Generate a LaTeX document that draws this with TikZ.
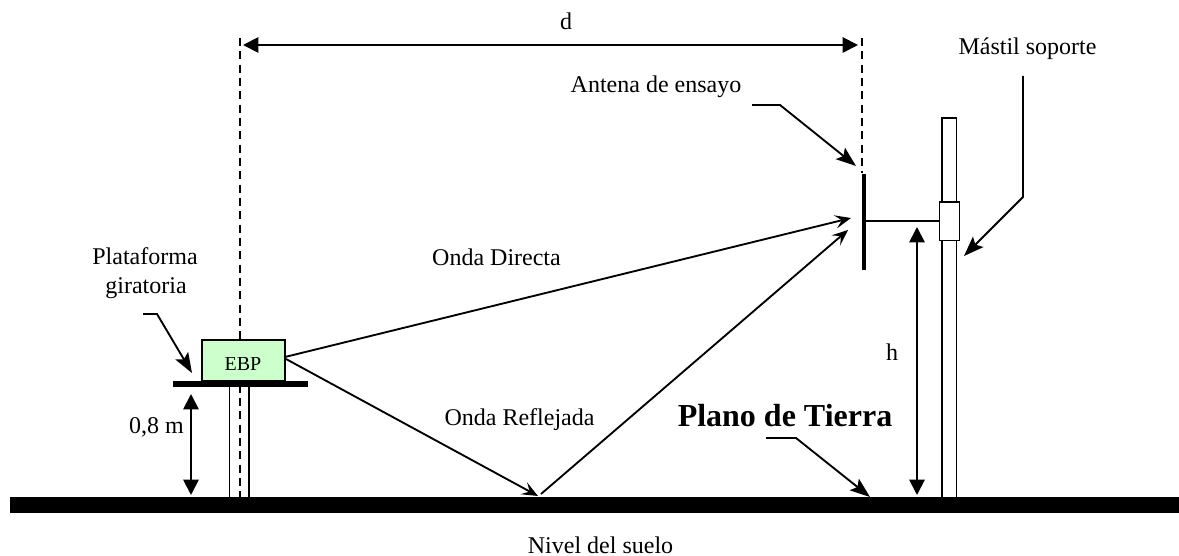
\documentclass[tikz,border=0pt]{standalone}
\usepackage{fontspec}
\setmainfont{Liberation Serif}
\usetikzlibrary{arrows.meta}
\tikzset{
  lbl/.style={inner sep=0pt,anchor=base,font=\fontsize{18}{22}\selectfont},
  ln/.style={draw=black,line width=1.4pt},
  bothtip/.style={{Triangle[length=11.5pt,width=11.5pt]}-{Triangle[length=11.5pt,width=11.5pt]}},
  callout/.style={ln,-{Stealth[length=15pt,width=11pt,inset=3pt]},line join=miter},
  wave/.style={ln,-{Stealth[length=12pt,width=10pt,inset=5pt]}},
  guide/.style={draw=black,line width=1.2pt,dash pattern=on 6pt off 4pt},
}
\begin{document}
\begin{tikzpicture}[x=0.75pt,y=-0.75pt]
\useasboundingbox (0,0) rectangle (1179,556);
% guides
\coordinate (gl1) at (240,38); \coordinate (gl2) at (240,497);
\coordinate (gr1) at (862,38); \coordinate (gr2) at (862,173);
\draw[guide] (gl1) -- (gl2);
\draw[guide] (gr1) -- (gr2);
% ground
\node[fill=black,draw=none,inner sep=0pt,minimum width=876.75pt,minimum height=12pt,anchor=north west] (ground) at (10,497) {};
% platform
\node[fill=black,inner sep=0pt,minimum width=101.25pt,minimum height=4.2pt,anchor=north west] (platform) at (173,381) {};
\coordinate (c1t) at (229.5,386); \coordinate (c1b) at (229.5,497);
\coordinate (c2t) at (249,386); \coordinate (c2b) at (249,497);
\draw[ln,line width=1.1pt] (c1t) -- (c1b);
\draw[ln,line width=1.1pt] (c2t) -- (c2b);
% EBP
\node[draw=black,line width=1.4pt,fill=green!20!white,inner sep=0pt,minimum width=62.5pt,minimum height=30.5pt,anchor=north west] (ebp) at (201,339) {};
\begin{scope}
\clip (202,357.5) rectangle (284,379);
\node[lbl,font=\fontsize{15}{18}\selectfont] (ebptext) at (243,370) {EBP};
\end{scope}
% mast
\node[draw=black,line width=1.2pt,fill=white,inner sep=0pt,minimum width=11pt,minimum height=285pt,anchor=north west] (mast) at (941,117) {};
\node[draw=black,line width=1.2pt,fill=white,inner sep=0pt,minimum width=15pt,minimum height=29pt,anchor=north west] (clamp) at (938.5,201) {};
% antenna
\node[fill=black,inner sep=0pt,minimum width=3.2pt,minimum height=72pt,anchor=north] (ant) at (864,174) {};
\draw[ln] (ant.east |- clamp.west) -- (clamp.west);
% dimension arrows
\coordinate (da) at (243,45); \coordinate (db) at (858,45);
\draw[ln,bothtip] (da) -- (db);
\coordinate (ha) at (917,227); \coordinate (hb) at (917,495);
\draw[ln,bothtip] (ha) -- (hb);
\coordinate (ma) at (191,394); \coordinate (mb) at (191,495);
\draw[ln,bothtip] (ma) -- (mb);
% callouts
\coordinate (p1) at (143,314); \coordinate (p2) at (157,314); \coordinate (p3) at (192,373);
\draw[callout] (p1) -- (p2) -- (p3);
\coordinate (a1) at (752,105); \coordinate (a2) at (780,105); \coordinate (a3) at (856,166);
\draw[callout] (a1) -- (a2) -- (a3);
\coordinate (s1) at (1023,76); \coordinate (s2) at (1023,197); \coordinate (s3) at (964,256);
\draw[callout] (s1) -- (s2) -- (s3);
\coordinate (t1) at (766,438); \coordinate (t2) at (796,438); \coordinate (t3) at (870,497);
\draw[callout] (t1) -- (t2) -- (t3);
% waves
\coordinate (e1) at (285,357); \coordinate (e2) at (851,218);
\coordinate (e3) at (286,359); \coordinate (e4) at (538,496);
\coordinate (e5) at (541,494); \coordinate (e6) at (848,230);
\draw[wave] (e1) -- (e2);
\draw[wave] (e3) -- (e4);
\draw[wave] (e5) -- (e6);
% labels
\node[lbl] (ld) at (566,30) {d};
\node[lbl] (lant) at (656,93) {Antena de ensayo};
\node[lbl] (lmast) at (1027.5,55) {Mástil soporte};
\node[lbl] (lplat1) at (145,265) {Plataforma};
\node[lbl] (lplat2) at (146,293) {giratoria};
\node[lbl] (lod) at (496.5,266) {Onda Directa};
\node[lbl] (lor) at (519.5,425) {Onda Reflejada};
\node[lbl] (lh) at (892,360) {h};
\node[lbl] (lm) at (156.5,433) {0,8 m};
\node[lbl,font=\fontsize{24}{28}\selectfont\bfseries] (lpt) at (785,426) {Plano de Tierra};
\node[lbl] (ln) at (600.5,553) {Nivel del suelo};
\end{tikzpicture}
\end{document}
